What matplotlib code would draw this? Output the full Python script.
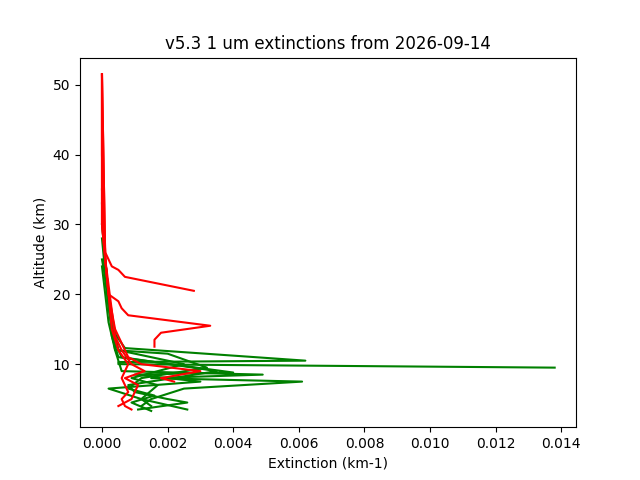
import matplotlib
matplotlib.use("Agg")
import matplotlib.pyplot as plt

green_alts = [
    [35, 25, 20, 15, 12.3, 10.5, 10.3, 10.0, 9.5],
    [33, 22, 15, 12, 9, 8.5, 8, 7.5, 6.5, 5, 4],
    [30, 20, 14, 11, 8.8, 8.5, 7.5, 6.5, 5, 3.5],
    [28, 18, 13, 11, 9, 7, 6, 5, 4.5, 3.5],
    [25, 17, 12, 10, 8, 7, 5, 4],
    [24, 16, 12, 11.5, 9.5, 8, 6.5, 5.5, 4.5, 3.3],
]
green_exts = [
    [0, 0.0001, 0.0002, 0.0003, 0.0007, 0.0062, 0.0005, 0.0005, 0.0138],
    [0, 0.0001, 0.0003, 0.0004, 0.0006, 0.0049, 0.0015, 0.0061, 0.0025, 0.0015, 0.0012],
    [0, 0.0002, 0.0003, 0.0005, 0.0040, 0.0010, 0.0030, 0.0002, 0.0012, 0.0026],
    [0, 0.0002, 0.0004, 0.0006, 0.0035, 0.0008, 0.0010, 0.0020, 0.0026, 0.0011],
    [0, 0.0003, 0.0005, 0.0025, 0.0009, 0.0017, 0.0012, 0.0015],
    [0, 0.0002, 0.0004, 0.0020, 0.0032, 0.0012, 0.0008, 0.0016, 0.0009, 0.0015],
]
red_alts = [
    [51.5, 40, 30, 26, 24, 23.5, 22.5, 20.5],
    [51.5, 30, 20, 19, 18, 17, 15.5, 14.5, 13.5, 12.5],
    [51.5, 30, 20, 15, 13, 11, 10, 9, 8, 7.5],
    [51.5, 25, 15, 12, 10, 8, 6, 5, 4, 3.5],
    [51.5, 25, 14, 12, 10, 9, 8, 7, 5, 4],
]
red_exts = [
    [0, 0, 0.00005, 0.0001, 0.0003, 0.0005, 0.0007, 0.0028],
    [0, 0, 0.0002, 0.0005, 0.0006, 0.0008, 0.0033, 0.0018, 0.0016, 0.0016],
    [0, 0, 0.0002, 0.0004, 0.0006, 0.0008, 0.0012, 0.0030, 0.0018, 0.0022],
    [0, 0.0001, 0.0003, 0.0005, 0.0008, 0.0006, 0.0008, 0.0006, 0.0007, 0.0009],
    [0, 0.0001, 0.0004, 0.0006, 0.0009, 0.0013, 0.0007, 0.0011, 0.0009, 0.0005],
]

fig, ax = plt.subplots(figsize=(6.4, 4.8), dpi=100)
for x, y in zip(green_exts, green_alts):
    ax.plot(x, y, color="green")
for x, y in zip(red_exts, red_alts):
    ax.plot(x, y, color="red")
ax.set_xlim(-0.00067, 0.01445)
ax.set_ylim(0.97, 53.9)
ax.set_xlabel("Extinction (km-1)")
ax.set_ylabel("Altitude (km)")
ax.set_title("v5.3 1 um extinctions from 2026-09-14")
fig.savefig("out.png")
